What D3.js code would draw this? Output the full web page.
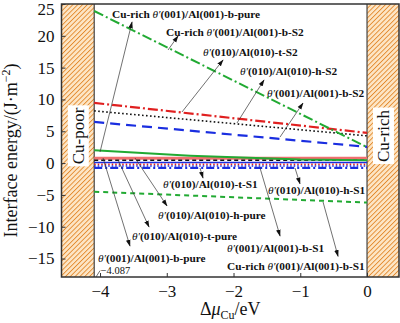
<!DOCTYPE html>
<html><head><meta charset="utf-8">
<script src="https://cdn.jsdelivr.net/npm/d3@7"></script>
<style>body{margin:0;background:#fff}svg{display:block}</style>
</head><body><svg id="c" width="400" height="323"></svg>
<script>
// ---- data ----
const xEnds = [-4.087, 0];
const xTicks = [-4, -3, -2, -1, 0];
const yTicks = [-15, -10, -5, 0, 5, 10, 15, 20, 25];
const cuRichB_S2 = [23.9, 2.5];
const t_S2 = [9.46, 4.75];
const h_S2 = [8.2, 4.28];
const b_S2 = [6.47, 2.55];
const cuRichB_S1 = [-4.5, -6.2];
const cuRichPureX = [-4.087, -2.65, -1.0, 0];
const cuRichB_pure = [2.0, 1.15, 0.55, 0.45];
const h_pure = [0.75, 0.75];
const b_pure = [0.45, 0.45];
const t_pure = [0.1, 0.1];
const t_S1 = [-0.2, -0.2];
const h_S1 = [-0.45, -0.45];
const b_S1 = [-0.75, -0.75];

const labels = [
 {t:"Cu-rich θ′(001)/Al(001)-b-pure", x:-3.82, y:22.8},
 {t:"Cu-rich θ′(001)/Al(001)-b-S2", x:-3.011, y:19.97},
 {t:"θ′(010)/Al(010)-t-S2", x:-2.457, y:16.83},
 {t:"θ′(010)/Al(010)-h-S2", x:-1.903, y:13.84},
 {t:"θ′(001)/Al(001)-b-S2", x:-1.498, y:10.38},
 {t:"θ′(010)/Al(010)-t-S1", x:-3.056, y:-3.91},
 {t:"θ′(010)/Al(010)-h-S1", x:-1.483, y:-4.86},
 {t:"θ′(010)/Al(010)-h-pure", x:-3.131, y:-8.78},
 {t:"θ′(010)/Al(010)-t-pure", x:-3.521, y:-12.08},
 {t:"θ′(001)/Al(001)-b-pure", x:-4.03, y:-15.54},
 {t:"θ′(001)/Al(001)-b-S1", x:-2.097, y:-13.97},
 {t:"Cu-rich θ′(001)/Al(001)-b-S1", x:-2.097, y:-16.8}
];
const arrows = [
 [-4.0,1.74,-3.52,22.17],
 [-2.981,17.77,-2.831,19.97],
 [-2.772,8.03,-2.157,16.2],
 [-1.948,6.3,-1.543,13.06],
 [-1.303,4.1,-0.959,9.44],
 [-2.502,-0.77,-2.457,-2.34],
 [-1.079,-0.77,-1.004,-3.27],
 [-3.476,0.8,-2.996,-6.74],
 [-3.73,0.49,-3.266,-10.04],
 [-3.955,0.8,-3.551,-13.03],
 [-1.603,-0.77,-1.303,-11.45],
 [-0.659,-6.11,-0.434,-14.65]
];

// ---- layout ----
const W=400,H=323, m={l:61.5,r:1,t:4,b:46};
const svg=d3.select("#c");
const x=d3.scaleLinear().domain([-4.577,0.479]).range([m.l,W-m.r]);
const y=d3.scaleLinear().domain([-17.9,25]).range([H-m.b,m.t]);
const FONT="'Liberation Serif','Times New Roman','DejaVu Serif',serif";

const defs=svg.append("defs");
const pat=defs.append("pattern").attr("id","hatch").attr("patternUnits","userSpaceOnUse")
 .attr("width",3.4).attr("height",3.4).attr("patternTransform","rotate(45)");
pat.append("rect").attr("width",3.4).attr("height",3.4).attr("fill","#fde6c6");
pat.append("line").attr("x1",0).attr("y1",0).attr("x2",0).attr("y2",3.4).attr("stroke","#e38a2e").attr("stroke-width",1.8);
const mk=defs.append("marker").attr("id","ah").attr("viewBox","0 0 10 10").attr("refX",9).attr("refY",5)
 .attr("markerUnits","userSpaceOnUse").attr("markerWidth",7).attr("markerHeight",7).attr("orient","auto");
mk.append("path").attr("d","M0,1.8L10,5L0,8.2Z").attr("fill","#111");

const x0=x.domain()[0], x1=x.domain()[1];
svg.append("rect").attr("x",x(x0)).attr("y",y(25)).attr("width",x(-4.087)-x(x0)).attr("height",y(-17.9)-y(25)).attr("fill","url(#hatch)");
svg.append("rect").attr("x",x(0)).attr("y",y(25)).attr("width",x(x1)-x(0)).attr("height",y(-17.9)-y(25)).attr("fill","url(#hatch)");
svg.append("line").attr("x1",x(-4.087)).attr("x2",x(-4.087)).attr("y1",y(25)).attr("y2",y(-17.9)).attr("stroke","#444").attr("stroke-width",1.2);
svg.append("line").attr("x1",x(0)).attr("x2",x(0)).attr("y1",y(25)).attr("y2",y(-17.9)).attr("stroke","#444").attr("stroke-width",1.2);

// series
const line=d3.line().x(d=>x(d[0])).y(d=>y(d[1]));
const pts=(xs,ys)=>xs.map((v,i)=>[v,ys[i]]);
const series=[
 {v:pts(xEnds,h_pure), c:"#f07070", w:3, da:null},
 {v:pts(xEnds,b_pure), c:"#111", w:1.6, da:"4,3"},
 {v:pts(xEnds,t_pure), c:"#1a2ee0", w:1.6, da:null},
 {v:pts(xEnds,t_S1), c:"#e02020", w:1.6, da:"1.5,2"},
 {v:pts(xEnds,h_S1), c:"#1a2ee0", w:1.6, da:"1.5,2"},
 {v:pts(xEnds,b_S1), c:"#1a2ee0", w:2.2, da:"8,3,2,3"},
 {v:pts(cuRichPureX,cuRichB_pure), c:"#22aa33", w:2, da:null},
 {v:pts(xEnds,cuRichB_S1), c:"#22aa33", w:2, da:"5,4"},
 {v:pts(xEnds,b_S2), c:"#1a2ee0", w:2.2, da:"10,6"},
 {v:pts(xEnds,h_S2), c:"#111", w:1.6, da:"1.6,2.4"},
 {v:pts(xEnds,t_S2), c:"#e02020", w:2.2, da:"10,3,2,3"},
 {v:pts(xEnds,cuRichB_S2), c:"#22aa33", w:2, da:"10,3,2,3"}
];
svg.append("g").selectAll("path").data(series).join("path")
 .attr("d",d=>line(d.v)).attr("fill","none").attr("stroke",d=>d.c).attr("stroke-width",d=>d.w)
 .attr("stroke-dasharray",d=>d.da);

// frame
svg.append("rect").attr("x",m.l).attr("y",m.t).attr("width",W-m.r-m.l).attr("height",H-m.b-m.t)
 .attr("fill","none").attr("stroke","#333").attr("stroke-width",1.5);

// axes (inward ticks)
const ax=svg.append("g").attr("transform",`translate(0,${H-m.b})`)
 .call(d3.axisBottom(x).tickValues(xTicks).tickSize(-4).tickPadding(8).tickFormat(d=>d===0?"0":String(d).replace("-","−")));
const ay=svg.append("g").attr("transform",`translate(${m.l},0)`)
 .call(d3.axisLeft(y).tickValues(yTicks).tickSize(-4).tickPadding(7).tickFormat(d=>String(d).replace("-","−")));
[ax,ay].forEach(g=>{g.attr("font-family",FONT);g.select(".domain").remove();g.selectAll("line").attr("stroke","#333");
 g.selectAll("text").attr("font-family",FONT).attr("font-size",17).attr("fill","#111");});
ay.selectAll("text").filter(d=>d===25).attr("dy","0.62em");

// annotations
svg.append("g").selectAll("line").data(arrows).join("line")
 .attr("x1",d=>x(d[0])).attr("y1",d=>y(d[1])).attr("x2",d=>x(d[2])).attr("y2",d=>y(d[3]))
 .attr("stroke","#333").attr("stroke-width",0.7).attr("marker-end","url(#ah)");
svg.append("g").selectAll("text").data(labels).join("text")
 .attr("x",d=>x(d.x)).attr("y",d=>y(d.y)).attr("font-family",FONT).attr("font-size",11.3)
 .attr("font-weight","bold").attr("fill","#111").each(function(d){
   const s=d3.select(this); const i=d.t.indexOf("θ′");
   if(i>0) s.append("tspan").text(d.t.slice(0,i));
   s.append("tspan").attr("font-style","italic").attr("font-weight","normal").text("θ′");
   s.append("tspan").text(d.t.slice(i+2));
 });
svg.append("line").attr("x1",x(-4.06)).attr("y1",y(-17.9)).attr("x2",x(-4.0)).attr("y2",y(-16.9)).attr("stroke","#333").attr("stroke-width",0.7);
svg.append("text").attr("x",x(-3.99)).attr("y",y(-17.4)).attr("font-family",FONT).attr("font-size",10.5).attr("fill","#111").text("−4.087");

// band labels
function bandLabel(cx,cy,txt){
 const g=svg.append("g").attr("transform",`translate(${cx},${cy}) rotate(-90)`);
 const t=g.append("text").attr("text-anchor","middle").attr("dy","0.35em").attr("font-family",FONT).attr("font-size",17).attr("fill","#111").text(txt);
 const bb=t.node().getBBox();
 g.insert("rect","text").attr("x",bb.x-2).attr("y",bb.y-1).attr("width",bb.width+4).attr("height",bb.height+2).attr("fill","#fff");
}
bandLabel((x(x0)+x(-4.087))/2, 136, "Cu-poor");
bandLabel((x(0)+x(x1))/2, 136, "Cu-rich");

// axis titles
const yt=svg.append("text").attr("transform",`translate(17,${(m.t+H-m.b)/2+10}) rotate(-90)`).attr("text-anchor","middle")
 .attr("font-family",FONT).attr("font-size",18).attr("fill","#111");
yt.append("tspan").text("Interface energy/(J·m");
yt.append("tspan").attr("font-size",12).attr("dy",-7).text("−2");
yt.append("tspan").attr("dy",7).text(")");
const xt=svg.append("text").attr("x",(m.l+W-m.r)/2).attr("y",315).attr("text-anchor","middle")
 .attr("font-family",FONT).attr("font-size",18).attr("fill","#111");
xt.append("tspan").text("Δ");
xt.append("tspan").attr("font-style","italic").text("μ");
xt.append("tspan").attr("font-size",12).attr("dy",4).text("Cu");
xt.append("tspan").attr("dy",-4).text("/eV");
</script></body></html>
